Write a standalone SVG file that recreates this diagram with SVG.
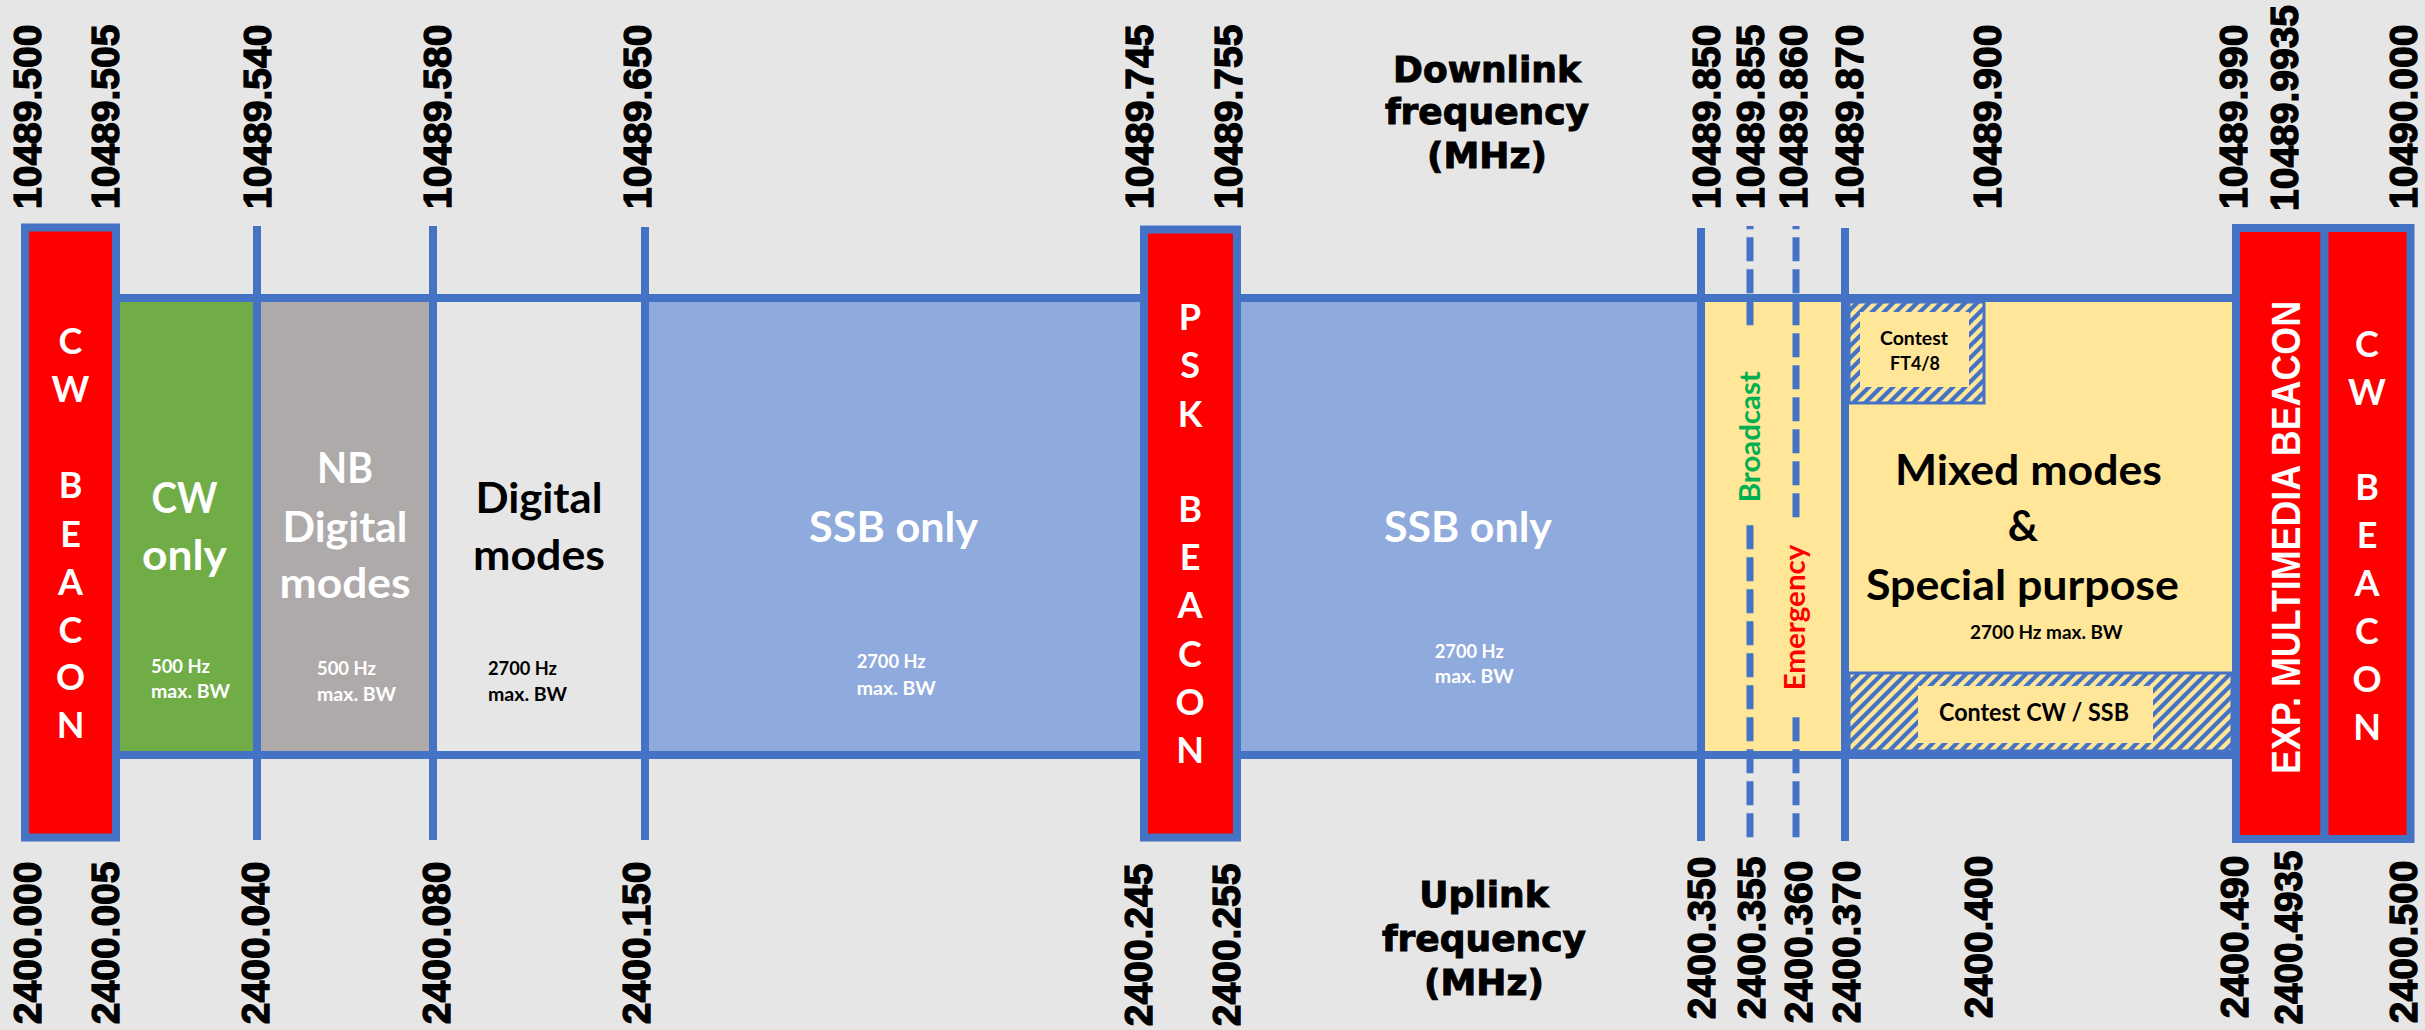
<svg xmlns="http://www.w3.org/2000/svg" width="2425" height="1030" viewBox="0 0 2425 1030">
<style>
.num{font-family:"Liberation Sans",Arial,sans-serif;font-weight:bold;font-size:39px;fill:#000;stroke:#000;stroke-width:1.3px}
.hdr{font-family:"DejaVu Sans",sans-serif;font-weight:bold;font-size:36px;text-anchor:middle;fill:#000;stroke:#000;stroke-width:1px}
.cal{font-family:Lato,"Open Sans",sans-serif;font-weight:bold}
.big{font-size:42px;text-anchor:middle}
.sm{font-size:19px}
.bcn{font-family:Lato,"Open Sans",sans-serif;font-weight:bold;font-size:36px;fill:#fff;text-anchor:middle}
.w{fill:#fff}
.k{fill:#000}
.ln{stroke:#4472C4;stroke-width:8;fill:none}
.dash{stroke:#4472C4;stroke-width:7;stroke-dasharray:24 8;stroke-dashoffset:20.7;fill:none}
.box{fill:#FF0000;stroke:#4472C4;stroke-width:8}
.hbox{fill:url(#hatch);stroke:#4472C4;stroke-width:3}
</style>
<defs>
<pattern id="hatch" patternUnits="userSpaceOnUse" width="12" height="12">
<rect width="12" height="12" fill="#FFE699"/>
<path d="M-3,3 L3,-3 M0,12 L12,0 M9,15 L15,9" stroke="#4472C4" stroke-width="4.2"/>
</pattern>
</defs>
<rect width="2425" height="1030" fill="#E7E6E6"/>

<g id="segments">
<rect id="seg-cw" x="120" y="302" width="133" height="449" fill="#70AD47"/>
<rect id="seg-nb" x="261" y="302" width="168" height="449" fill="#AEAAAA"/>
<rect id="seg-dig" x="437" y="302" width="204" height="449" fill="#E7E6E6"/>
<rect id="seg-ssb1" x="649" y="302" width="492" height="449" fill="#8FAADC"/>
<rect id="seg-ssb2" x="1240" y="302" width="457" height="449" fill="#8FAADC"/>
<rect id="seg-be" x="1705" y="302" width="137" height="449" fill="#FFE699"/>
<rect id="seg-mix" x="1849" y="302" width="384" height="449" fill="#FFE699"/>
</g>

<g id="connectors">
<line class="ln" x1="116" y1="298" x2="2236" y2="298"/>
<line class="ln" x1="116" y1="755" x2="2236" y2="755"/>
<line class="ln" x1="257" y1="226" x2="257" y2="840"/>
<line class="ln" x1="433" y1="226" x2="433" y2="840"/>
<line class="ln" x1="645" y1="227" x2="645" y2="840"/>
<line class="ln" x1="1701" y1="228" x2="1701" y2="841"/>
<line class="ln" x1="1845" y1="228" x2="1845" y2="841"/>
<line class="dash" x1="1750" y1="226" x2="1750" y2="838"/>
<line class="dash" x1="1796" y1="226" x2="1796" y2="838"/>
</g>

<g id="contest-ft">
<rect class="hbox" x="1849" y="302" width="135" height="101"/>
<rect x="1860" y="312" width="109" height="75" fill="#FFE699"/>
<text class="cal sm k" text-anchor="middle" x="1914" y="345" textLength="68" lengthAdjust="spacingAndGlyphs">Contest</text>
<text class="cal sm k" text-anchor="middle" x="1915" y="370" textLength="50" lengthAdjust="spacingAndGlyphs">FT4/8</text>
</g>

<g id="contest-cw">
<rect class="hbox" x="1849" y="673" width="383" height="78"/>
<rect x="1918" y="686" width="235" height="57" fill="#FFE699"/>
<text class="cal k" font-size="24" text-anchor="middle" x="2034" y="721" textLength="190" lengthAdjust="spacingAndGlyphs">Contest CW / SSB</text>
</g>

<g id="cw-beacon-left">
<rect class="box" x="25" y="227.5" width="91" height="610"/>
<text class="bcn"><tspan x="70.5" y="354">C</tspan><tspan x="70.5" y="402">W</tspan><tspan x="70.5" y="498">B</tspan><tspan x="70.5" y="547">E</tspan><tspan x="70.5" y="595">A</tspan><tspan x="70.5" y="643">C</tspan><tspan x="70.5" y="690">O</tspan><tspan x="70.5" y="738">N</tspan></text>
</g>

<g id="psk-beacon">
<rect class="box" x="1144" y="229.5" width="93" height="608"/>
<text class="bcn"><tspan x="1190" y="330">P</tspan><tspan x="1190" y="378">S</tspan><tspan x="1190" y="427">K</tspan><tspan x="1190" y="522">B</tspan><tspan x="1190" y="570">E</tspan><tspan x="1190" y="618">A</tspan><tspan x="1190" y="667">C</tspan><tspan x="1190" y="715">O</tspan><tspan x="1190" y="763">N</tspan></text>
</g>

<g id="exp-beacon">
<rect class="box" x="2236" y="228" width="88.5" height="611"/>
<text transform="translate(2300,537.5) rotate(-90)" font-family="Liberation Sans, Arial, sans-serif" font-weight="bold" font-size="40" fill="#fff" text-anchor="middle" textLength="473" lengthAdjust="spacingAndGlyphs">EXP. MULTIMEDIA BEACON</text>
</g>

<g id="cw-beacon-right">
<rect class="box" x="2324.5" y="228" width="86" height="611"/>
<text class="bcn"><tspan x="2367" y="357">C</tspan><tspan x="2367" y="405">W</tspan><tspan x="2367" y="500">B</tspan><tspan x="2367" y="548">E</tspan><tspan x="2367" y="596">A</tspan><tspan x="2367" y="644">C</tspan><tspan x="2367" y="692">O</tspan><tspan x="2367" y="740">N</tspan></text>
</g>

<g id="label-cw">
<text class="cal big w" x="184.5" y="513" textLength="66" lengthAdjust="spacingAndGlyphs">CW</text>
<text class="cal big w" x="184.5" y="570" textLength="85" lengthAdjust="spacingAndGlyphs">only</text>
<text class="cal sm w" x="151" y="673" textLength="59" lengthAdjust="spacingAndGlyphs">500 Hz</text>
<text class="cal sm w" x="151" y="698" textLength="79" lengthAdjust="spacingAndGlyphs">max. BW</text>
</g>

<g id="label-nb">
<text class="cal big w" x="345" y="483" textLength="56" lengthAdjust="spacingAndGlyphs">NB</text>
<text class="cal big w" x="345" y="542" textLength="125" lengthAdjust="spacingAndGlyphs">Digital</text>
<text class="cal big w" x="345" y="598" textLength="131" lengthAdjust="spacingAndGlyphs">modes</text>
<text class="cal sm w" x="317" y="675" textLength="59" lengthAdjust="spacingAndGlyphs">500 Hz</text>
<text class="cal sm w" x="317" y="701" textLength="79" lengthAdjust="spacingAndGlyphs">max. BW</text>
</g>

<g id="label-dig">
<text class="cal big k" x="539" y="513" textLength="127" lengthAdjust="spacingAndGlyphs">Digital</text>
<text class="cal big k" x="539" y="570" textLength="132" lengthAdjust="spacingAndGlyphs">modes</text>
<text class="cal sm k" x="488" y="675" textLength="69" lengthAdjust="spacingAndGlyphs">2700 Hz</text>
<text class="cal sm k" x="488" y="701" textLength="79" lengthAdjust="spacingAndGlyphs">max. BW</text>
</g>

<g id="label-ssb1">
<text class="cal big w" x="893.6" y="542" textLength="169" lengthAdjust="spacingAndGlyphs">SSB only</text>
<text class="cal sm w" x="856.7" y="668" textLength="69" lengthAdjust="spacingAndGlyphs">2700 Hz</text>
<text class="cal sm w" x="856.7" y="695" textLength="79" lengthAdjust="spacingAndGlyphs">max. BW</text>
</g>

<g id="label-ssb2">
<text class="cal big w" x="1468" y="542" textLength="168" lengthAdjust="spacingAndGlyphs">SSB only</text>
<text class="cal sm w" x="1434.8" y="658" textLength="69" lengthAdjust="spacingAndGlyphs">2700 Hz</text>
<text class="cal sm w" x="1434.8" y="683" textLength="79" lengthAdjust="spacingAndGlyphs">max. BW</text>
</g>

<g id="label-broadcast">
<rect x="1738" y="326" width="24" height="198" fill="#FFE699"/>
<text class="cal" font-size="28" fill="#00B050" text-anchor="middle" transform="translate(1760,436.7) rotate(-90)" textLength="131" lengthAdjust="spacingAndGlyphs">Broadcast</text>
</g>

<g id="label-emergency">
<rect x="1784" y="518" width="26" height="198" fill="#FFE699"/>
<text class="cal" font-size="28" fill="#FF0000" text-anchor="middle" transform="translate(1805,617.5) rotate(-90)" textLength="146" lengthAdjust="spacingAndGlyphs">Emergency</text>
</g>

<g id="label-mixed">
<text class="cal big k" x="2028.4" y="485" textLength="267" lengthAdjust="spacingAndGlyphs">Mixed modes</text>
<text class="cal big k" x="2023" y="540.6">&amp;</text>
<text class="cal big k" x="2022.4" y="600" textLength="313" lengthAdjust="spacingAndGlyphs">Special purpose</text>
<text class="cal sm k" text-anchor="middle" x="2046.3" y="639.3" textLength="152.6" lengthAdjust="spacingAndGlyphs">2700 Hz max. BW</text>
</g>

<g id="downlink-title">
<text class="hdr" x="1487" y="82">Downlink</text>
<text class="hdr" x="1487" y="124">frequency</text>
<text class="hdr" x="1487" y="168">(MHz)</text>
</g>

<g id="uplink-title">
<text class="hdr" x="1484" y="907">Uplink</text>
<text class="hdr" x="1484" y="951">frequency</text>
<text class="hdr" x="1484" y="995">(MHz)</text>
</g>

<g id="downlink-labels" class="num">
<text transform="translate(41.2,209) rotate(-90)">10489.500</text>
<text transform="translate(119.4,209) rotate(-90)">10489.505</text>
<text transform="translate(271.4,209) rotate(-90)">10489.540</text>
<text transform="translate(450.9,209) rotate(-90)">10489.580</text>
<text transform="translate(651,209) rotate(-90)">10489.650</text>
<text transform="translate(1152.6,209) rotate(-90)">10489.745</text>
<text transform="translate(1241.5,209) rotate(-90)">10489.755</text>
<text transform="translate(1720,209) rotate(-90)">10489.850</text>
<text transform="translate(1763.5,209) rotate(-90)">10489.855</text>
<text transform="translate(1806.6,209) rotate(-90)">10489.860</text>
<text transform="translate(1863,209) rotate(-90)">10489.870</text>
<text transform="translate(2001,209) rotate(-90)">10489.900</text>
<text transform="translate(2247,209) rotate(-90)">10489.990</text>
<text transform="translate(2298,211) rotate(-90)">10489.9935</text>
<text transform="translate(2417,209) rotate(-90)">10490.000</text>
</g>

<g id="uplink-labels" class="num" text-anchor="end">
<text transform="translate(41,861.5) rotate(-90)">2400.000</text>
<text transform="translate(119,861.5) rotate(-90)">2400.005</text>
<text transform="translate(269,861.5) rotate(-90)">2400.040</text>
<text transform="translate(450,861.5) rotate(-90)">2400.080</text>
<text transform="translate(650,861.5) rotate(-90)">2400.150</text>
<text transform="translate(1152,863.5) rotate(-90)">2400.245</text>
<text transform="translate(1240,863.5) rotate(-90)">2400.255</text>
<text transform="translate(1715,856.5) rotate(-90)">2400.350</text>
<text transform="translate(1765,856.5) rotate(-90)">2400.355</text>
<text transform="translate(1812,860.5) rotate(-90)">2400.360</text>
<text transform="translate(1860,860.5) rotate(-90)">2400.370</text>
<text transform="translate(1992,855.5) rotate(-90)">2400.400</text>
<text transform="translate(2248,855.5) rotate(-90)">2400.490</text>
<text transform="translate(2301.6,850.5) rotate(-90)" textLength="174" lengthAdjust="spacingAndGlyphs">2400.4935</text>
<text transform="translate(2417,860.5) rotate(-90)">2400.500</text>
</g>
</svg>
